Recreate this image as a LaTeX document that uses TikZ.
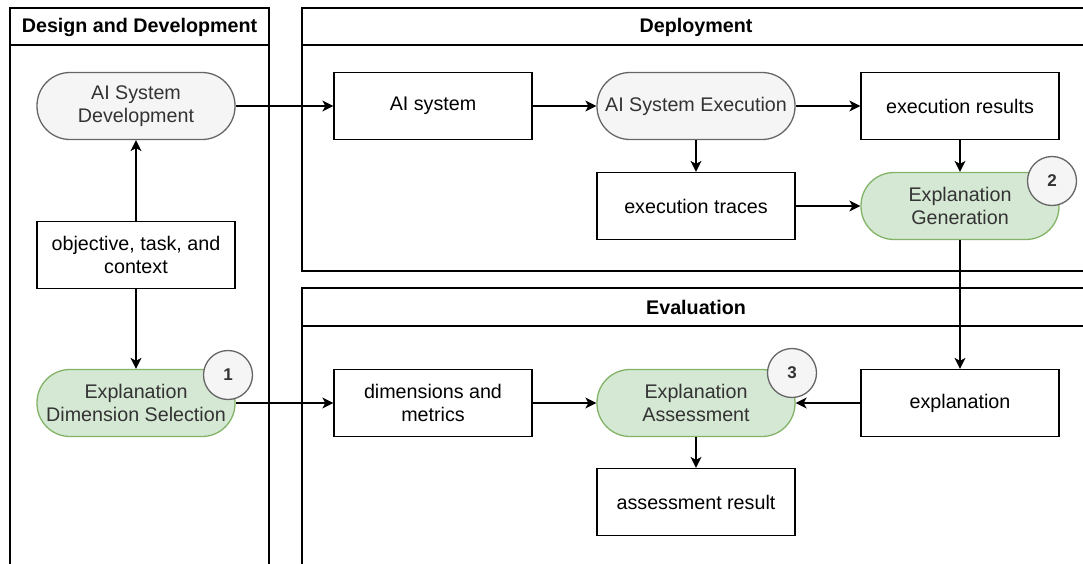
\documentclass[tikz,border=0pt]{standalone}
\usepackage{fontspec}
\setmainfont{Liberation Sans}
\usetikzlibrary{arrows.meta}
\definecolor{grayfill}{HTML}{F5F5F5}
\definecolor{graystroke}{HTML}{666666}
\definecolor{greenfill}{HTML}{D5E8D4}
\definecolor{greenstroke}{HTML}{82B366}
\definecolor{txt}{HTML}{333333}
\begin{document}
\begin{tikzpicture}[x=1pt,y=-1pt,
  font=\fontsize{19.7}{23.5}\selectfont,
  box/.style={draw=black, line width=1.3pt, minimum width=198pt, minimum height=67pt, inner sep=0pt, align=center, fill=white},
  pillgray/.style={box, draw=graystroke, fill=grayfill, rounded corners=33pt, text=txt},
  pillgreen/.style={box, draw=greenstroke, fill=greenfill, rounded corners=33pt, text=txt},
  badge/.style={circle, draw=graystroke, fill=grayfill, line width=1.3pt, minimum size=49pt, inner sep=0pt, font=\fontsize{17}{20}\selectfont\bfseries, text=txt},
  lane/.style={draw=black, line width=1.5pt},
  arr/.style={line width=1.3pt, -{Stealth[length=11pt,width=11pt,inset=3pt]}},
  title/.style={font=\fontsize{19.7}{23.5}\selectfont\bfseries}
]
\useasboundingbox (0,0) rectangle (1083,564);
\clip (0,0) rectangle (1083,564);
% lanes
\draw[lane] (10,8) rectangle (269,620);
\draw[lane] (10,45) -- (269,45);
\draw[lane] (302,8) rectangle (1092,271);
\draw[lane] (302,45) -- (1092,45);
\draw[lane] (302,288) rectangle (1092,620);
\draw[lane] (302,326) -- (1092,326);
\node[title] (t1) at (139.5,27) {Design and Development};
\node[title] (t2) at (696,27) {Deployment};
\node[title] (t3) at (696,307) {Evaluation};
% nodes
\node[pillgray] (asd) at (136,106) {AI System\\Development};
\node[box] (otc) at (136,255) {objective, task, and\\context};
\node[pillgreen] (eds) at (136,403) {Explanation\\Dimension Selection};
\node[box] (ais) at (433,106) {AI system};
\node[pillgray] (aise) at (696,106) {AI System Execution};
\node[box] (er) at (960,106) {execution results};
\node[box] (et) at (696,206) {execution traces};
\node[pillgreen] (eg) at (960,206) {Explanation\\Generation};
\node[box] (dm) at (433,403) {dimensions and\\metrics};
\node[pillgreen] (ea) at (696,403) {Explanation\\Assessment};
\node[box] (ex) at (960,403) {explanation};
\node[box] (ar) at (696,502) {assessment result};
% badges
\node[badge] (b1) at (228,375) {1};
\node[badge] (b2) at (1052,181) {2};
\node[badge] (b3) at (792,373) {3};
% edges
\draw[arr] (asd) -- (ais);
\draw[arr] (otc) -- (asd);
\draw[arr] (otc) -- (eds);
\draw[arr] (eds) -- (dm);
\draw[arr] (ais) -- (aise);
\draw[arr] (aise) -- (er);
\draw[arr] (aise) -- (et);
\draw[arr] (er) -- (eg);
\draw[arr] (et) -- (eg);
\draw[arr] (eg) -- (ex);
\draw[arr] (dm) -- (ea);
\draw[arr] (ex) -- (ea);
\draw[arr] (ea) -- (ar);
\end{tikzpicture}
\end{document}
